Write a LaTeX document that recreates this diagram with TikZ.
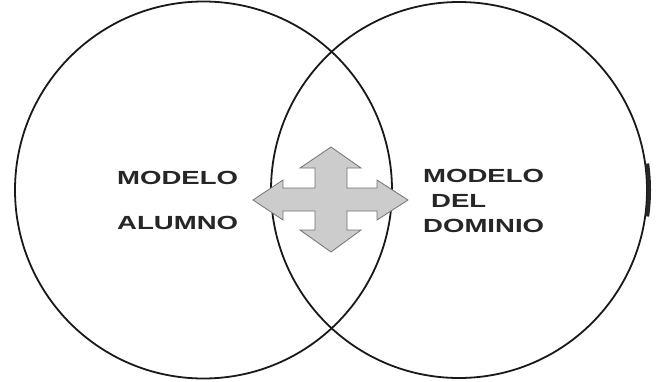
\documentclass[tikz,border=0pt]{standalone}
\usepackage{fontspec}
\newfontfamily\modelfont[FakeStretch=1.45]{Liberation Sans Bold}
\usetikzlibrary{positioning, shapes.geometric, calc}

\begin{document}
\begin{tikzpicture}[x=1pt, y=-1pt,
    modelo/.style={circle, draw=black!90, line width=1.8pt, inner sep=0pt},
    etiqueta/.style={inner sep=0pt, anchor=west, font=\modelfont\fontsize{19}{19}\selectfont, text=black!85},
    cruz/.style={draw=black!55, line width=0.8pt, fill=black!20, line join=miter}
]
    \useasboundingbox (0,0) rectangle (658,381);
    % los dos modelos
    \node[modelo, minimum size=377pt] (alumno) at (203.5,190) {};
    \node[modelo, minimum size=376pt] (dominio) at (459,190) {};
    \draw[black!85, line width=4pt] ($(dominio)+(-8:190)$) arc (-8:8:190);
    % textos
    \node[etiqueta] (mod1) at (117,177.5) {MODELO};
    \node[etiqueta] (alu) at (117,222.5) {ALUMNO};
    \node[etiqueta] (mod2) at (423,175.5) {MODELO};
    \node[etiqueta] (del) at (431,200.5) {DEL};
    \node[etiqueta] (dom) at (423,225.5) {DOMINIO};
    % flecha de cuatro puntas
    \draw[cruz] (253,200) -- (283,180) -- (283,188) -- (315,188) -- (315,168)
        -- (300,168) -- (331,147) -- (361,168) -- (347,168) -- (347,188)
        -- (377,188) -- (377,180) -- (408,200) -- (377,220) -- (377,211)
        -- (347,211) -- (347,230) -- (361,230) -- (331,252) -- (300,230)
        -- (315,230) -- (315,211) -- (283,211) -- (283,220) -- cycle;
\end{tikzpicture}
\end{document}
